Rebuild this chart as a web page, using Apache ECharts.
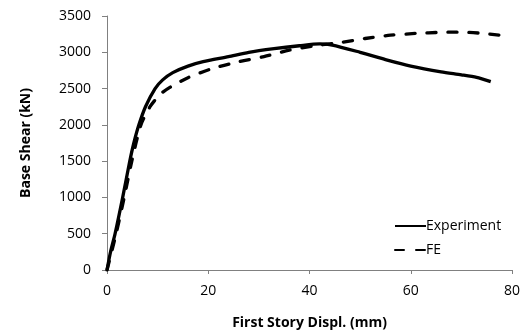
<!DOCTYPE html>
<html><head><meta charset="utf-8">
<script src="https://cdn.jsdelivr.net/npm/echarts@6/dist/echarts.min.js"></script>
<style>html,body{margin:0;padding:0;background:#fff}#c{width:528px;height:335px}</style>
</head><body><div id="c"></div>
<script>
var xTicks = [0, 20, 40, 60, 80];
var yTicks = [0, 500, 1000, 1500, 2000, 2500, 3000, 3500];
var expX = [0, 0.7, 1.6, 3.1, 4.5, 5.3, 6.3, 7.6, 9.5, 11, 13, 16, 19, 24, 28, 33, 38, 42, 44.5, 50, 55, 60, 66, 70, 73, 75.8];
var expY = [0, 250, 500, 1000, 1500, 1750, 2000, 2250, 2500, 2620, 2720, 2810, 2870, 2940, 3000, 3050, 3090, 3115, 3100, 3000, 2900, 2810, 2730, 2690, 2655, 2595];
var feX = [0, 1.8, 3.4, 4.9, 6.7, 8.5, 10.5, 12.5, 16, 21, 26, 31, 36, 41, 46, 51, 56, 61, 66, 70, 74, 79.5];
var feY = [0, 500, 1000, 1500, 2000, 2250, 2420, 2520, 2650, 2780, 2870, 2940, 3030, 3090, 3133, 3190, 3235, 3260, 3275, 3278, 3262, 3222];
function pairs(a, b) { return a.map(function (v, i) { return [v, b[i]]; }); }
var font = 'Open Sans';
var chart = echarts.init(document.getElementById('c'));
chart.setOption({
  animation: false,
  grid: { left: 107, right: 16, top: 16, bottom: 64 },
  legend: {
    orient: 'vertical', left: 389, top: 214, itemWidth: 31, itemHeight: 14, itemGap: 10,
    itemStyle: { opacity: 0 },
    textStyle: { fontFamily: font, fontSize: 14, color: '#000', padding: [0, 0, 0, -5] },
    data: ['Experiment', 'FE']
  },
  xAxis: {
    type: 'value', min: 0, max: 80, interval: 20,
    name: 'First Story Displ. (mm)', nameLocation: 'middle', nameGap: 46,
    nameTextStyle: { fontFamily: font, fontSize: 14, fontWeight: 'bold', color: '#000' },
    axisLine: { lineStyle: { color: '#808080', width: 1 } },
    axisTick: { show: true, inside: false, length: 4, lineStyle: { color: '#808080' } },
    axisLabel: { fontFamily: font, fontSize: 14, color: '#000', margin: 14, formatter: function (v) { return xTicks.indexOf(v) >= 0 ? String(v) : ''; } },
    splitLine: { show: false }
  },
  yAxis: {
    type: 'value', min: 0, max: 3500, interval: 500,
    name: 'Base Shear (kN)', nameLocation: 'middle', nameGap: 74, nameRotate: 90,
    nameTextStyle: { fontFamily: font, fontSize: 14, fontWeight: 'bold', color: '#000' },
    axisLine: { show: true, lineStyle: { color: '#808080', width: 1 } },
    axisTick: { show: true, inside: false, length: 5, lineStyle: { color: '#808080' } },
    axisLabel: { fontFamily: font, fontSize: 14, color: '#000', margin: 16, formatter: function (v) { return yTicks.indexOf(v) >= 0 ? String(v) : ''; } },
    splitLine: { show: false }
  },
  series: [
    { name: 'Experiment', type: 'line', data: pairs(expX, expY), symbol: 'none', smooth: 0.25,
      lineStyle: { color: '#000', width: 3.3 }, itemStyle: { color: '#000' } },
    { name: 'FE', type: 'line', data: pairs(feX, feY), symbol: 'none', smooth: 0.25,
      lineStyle: { color: '#000', width: 3.3, type: [9, 12], cap: 'round' }, itemStyle: { color: '#000' } }
  ]
});
</script></body></html>
